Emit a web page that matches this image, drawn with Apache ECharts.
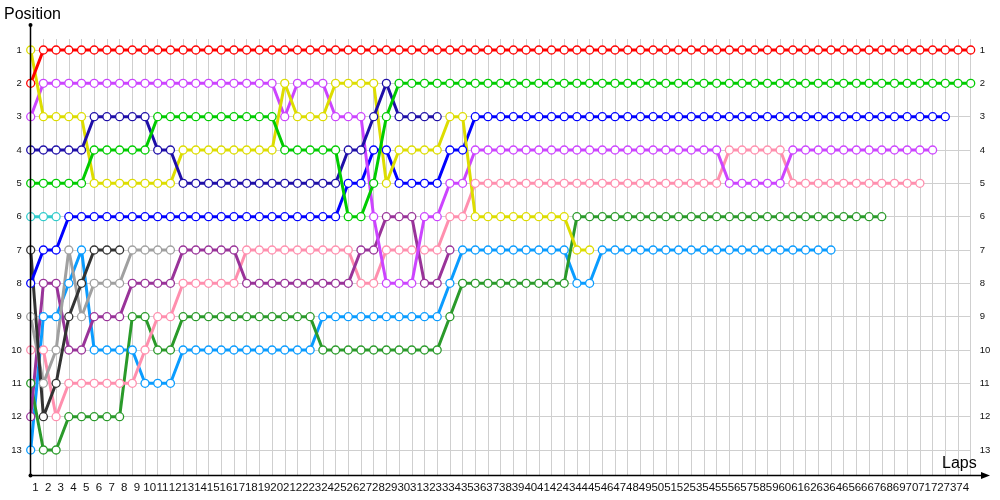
<!DOCTYPE html>
<html><head><meta charset="utf-8">
<script src="https://cdn.jsdelivr.net/npm/echarts@6/dist/echarts.min.js"></script>
<style>html,body{margin:0;padding:0;background:#fff}#c{width:1000px;height:500px}</style>
</head><body><div id="c"></div>
<script>
// Position per lap, index 0 = grid (lap 0), index n = lap n
const redPos = [2,1,1,1,1,1,1,1,1,1, 1,1,1,1,1,1,1,1,1,1, 1,1,1,1,1,1,1,1,1,1, 1,1,1,1,1,1,1,1,1,1, 1,1,1,1,1,1,1,1,1,1, 1,1,1,1,1,1,1,1,1,1, 1,1,1,1,1,1,1,1,1,1, 1,1,1,1,1];
const greenPos = [5,5,5,5,5,4,4,4,4,4, 3,3,3,3,3,3,3,3,3,3, 4,4,4,4,4,6,6,5,3,2, 2,2,2,2,2,2,2,2,2,2, 2,2,2,2,2,2,2,2,2,2, 2,2,2,2,2,2,2,2,2,2, 2,2,2,2,2,2,2,2,2,2, 2,2,2,2,2];
const navyPos = [4,4,4,4,4,3,3,3,3,3, 4,4,5,5,5,5,5,5,5,5, 5,5,5,5,5,4,4,3,2,3, 3,3,3];
const yellowPos = [1,3,3,3,3,5,5,5,5,5, 5,5,4,4,4,4,4,4,4,4, 2,3,3,3,2,2,2,2,5,4, 4,4,4,3,3,6,6,6,6,6, 6,6,6,7,7];
const magentaPos = [3,2,2,2,2,2,2,2,2,2, 2,2,2,2,2,2,2,2,2,2, 3,2,2,2,3,3,3,6,8,8, 8,6,6,5,5,4,4,4,4,4, 4,4,4,4,4,4,4,4,4,4, 4,4,4,4,4,5,5,5,5,5, 4,4,4,4,4,4,4,4,4,4, 4,4];
const bluePos = [8,7,7,6,6,6,6,6,6,6, 6,6,6,6,6,6,6,6,6,6, 6,6,6,6,6,5,5,4,4,5, 5,5,5,4,4,3,3,3,3,3, 3,3,3,3,3,3,3,3,3,3, 3,3,3,3,3,3,3,3,3,3, 3,3,3,3,3,3,3,3,3,3, 3,3,3];
const cyanPos = [6,6,6];
const blackPos = [7,12,11,9,8,7,7,7];
const greyPos = [9,11,10,7,9,8,8,8,7,7,7,7];
const purplePos = [12,8,8,10,10,9,9,9,8,8, 8,8,7,7,7,7,7,8,8,8, 8,8,8,8,8,8,7,7,6,6, 6,8,8,7];
const pinkPos = [10,10,12,11,11,11,11,11,11,10, 9,9,8,8,8,8,8,7,7,7, 7,7,7,7,7,7,8,8,7,7, 7,7,7,6,6,5,5,5,5,5, 5,5,5,5,5,5,5,5,5,5, 5,5,5,5,5,4,4,4,4,4, 5,5,5,5,5,5,5,5,5,5, 5];
const darkGreenPos = [11,13,13,12,12,12,12,12,9,9, 10,10,9,9,9,9,9,9,9,9, 9,9,9,10,10,10,10,10,10,10, 10,10,10,9,8,8,8,8,8,8, 8,8,8,6,6,6,6,6,6,6, 6,6,6,6,6,6,6,6,6,6, 6,6,6,6,6,6,6,6];
const lightBluePos = [13,9,9,8,7,10,10,10,10,11, 11,11,10,10,10,10,10,10,10,10, 10,10,10,9,9,9,9,9,9,9, 9,9,9,8,7,7,7,7,7,7, 7,7,7,8,8,7,7,7,7,7, 7,7,7,7,7,7,7,7,7,7, 7,7,7,7];

const seriesDefs = [
  ['Light blue', '#0a9cff', lightBluePos],
  ['Dark green', '#2a9a2a', darkGreenPos],
  ['Pink', '#ff8fae', pinkPos],
  ['Purple', '#993399', purplePos],
  ['Grey', '#a0a0a0', greyPos],
  ['Black', '#333333', blackPos],
  ['Cyan', '#33cccc', cyanPos],
  ['Blue', '#0000ff', bluePos],
  ['Magenta', '#cc44ff', magentaPos],
  ['Yellow', '#dddd00', yellowPos],
  ['Navy', '#1f0fa8', navyPos],
  ['Green', '#00cc00', greenPos],
  ['Red', '#ff0000', redPos]
];

const chart = echarts.init(document.getElementById('c'), null, {renderer: 'canvas'});
const FONT = 'Liberation Sans';
chart.setOption({
  animation: false,
  backgroundColor: '#fff',
  grid: {left: 30.7, right: 29.3, top: 39, bottom: 25, containLabel: false},
  xAxis: {
    type: 'value', min: 0, max: 74, interval: 1,
    axisLine: {show: false}, axisTick: {show: false},
    splitLine: {show: true, lineStyle: {color: '#cfcfcf', width: 1}},
    axisLabel: {
      show: true, margin: 7, fontSize: 11.5, fontFamily: FONT, color: '#111',
      padding: [0, 16, 0, 0],
      formatter: v => (v === 0 ? '' : String(v))
    }
  },
  yAxis: [{
    type: 'value', inverse: true, min: 0.67, max: 13.75, splitNumber: 13, minInterval: 1, maxInterval: 1,
    axisLine: {show: false}, axisTick: {show: false},
    splitLine: {show: true, showMinLine: false, showMaxLine: false, lineStyle: {color: '#cfcfcf', width: 1}},
    axisLabel: {
      margin: 9, fontSize: 9.5, fontFamily: FONT, color: '#111',
      showMinLabel: false, showMaxLabel: false,
      formatter: v => (Math.abs(v - Math.round(v)) < 1e-6 ? String(Math.round(v)) : '')
    }
  }, {
    type: 'value', inverse: true, position: 'right', min: 0.67, max: 13.75, splitNumber: 13, minInterval: 1, maxInterval: 1,
    axisLine: {show: false}, axisTick: {show: false}, splitLine: {show: false},
    axisLabel: {
      margin: 9, fontSize: 9.5, fontFamily: FONT, color: '#111',
      showMinLabel: false, showMaxLabel: false,
      formatter: v => (Math.abs(v - Math.round(v)) < 1e-6 ? String(Math.round(v)) : '')
    }
  }],
  series: seriesDefs.map(([name, color, pos]) => ({
    name, type: 'line',
    data: pos.map((p, lap) => [lap, p]),
    symbol: 'circle', symbolSize: 8, showAllSymbol: true,
    lineStyle: {color, width: 3},
    itemStyle: {color: '#ffffff', borderColor: color, borderWidth: 1.3},
    emphasis: {disabled: true},
    silent: true
  })),
  graphic: [
    {type: 'line', shape: {x1: 30.5, y1: 25, x2: 30.5, y2: 475.5}, style: {stroke: '#000', lineWidth: 1.5}, z: 100},
    {type: 'line', shape: {x1: 30.5, y1: 475.5, x2: 986, y2: 475.5}, style: {stroke: '#000', lineWidth: 1.5}, z: 100},
    {type: 'polygon', shape: {points: [[981, 472], [990, 475.5], [981, 479]]}, style: {fill: '#000'}, z: 100},
    {type: 'circle', shape: {cx: 30.5, cy: 25, r: 2}, style: {fill: '#000'}, z: 100},
    {type: 'circle', shape: {cx: 30.5, cy: 475.5, r: 2}, style: {fill: '#000'}, z: 100},
    {type: 'text', left: 4, top: 7, style: {text: 'Position', fontSize: 16, fontFamily: FONT, fill: '#000'}, z: 100},
    {type: 'text', left: 942, top: 456, style: {text: 'Laps', fontSize: 16, fontFamily: FONT, fill: '#000'}, z: 100}
  ]
});
</script>
</body></html>
